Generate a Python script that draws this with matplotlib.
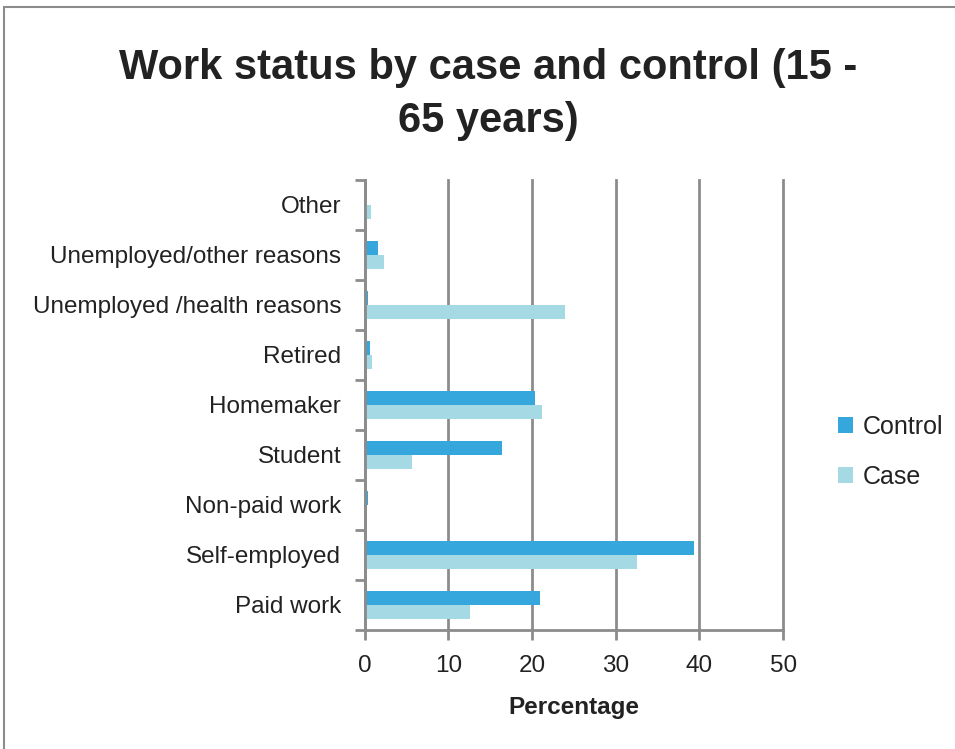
import matplotlib.pyplot as plt
import numpy as np
from matplotlib.patches import Rectangle

# Work status categories, bottom to top
categories = ['Paid work', 'Self-employed', 'Non-paid work', 'Student', 'Homemaker',
              'Retired', 'Unemployed /health reasons', 'Unemployed/other reasons', 'Other']
control = [20.9, 39.4, 0.35, 16.4, 20.4, 0.6, 0.35, 1.6, 0.0]
case = [12.6, 32.5, 0.2, 5.6, 21.2, 0.8, 23.9, 2.3, 0.7]

c_control = '#35a7dd'
c_case = '#a5d9e3'
grid_c = '#8c8c8c'
txt_c = '#222222'

plt.rcParams['font.family'] = ['Liberation Sans', 'DejaVu Sans']

fig = plt.figure(figsize=(9.55, 7.49), dpi=100)
ax = fig.add_axes([0.382, 0.159, 0.438, 0.601])

y = np.arange(len(categories))
h = 0.28
ax.barh(y + h / 2, control, height=h, color=c_control, label='Control', zorder=3)
ax.barh(y - h / 2, case, height=h, color=c_case, label='Case', zorder=3)

ax.set_xlim(0, 50)
ax.set_ylim(-0.5, len(categories) - 0.5)
ax.set_xticks(range(0, 51, 10))
ax.set_yticks(np.arange(-0.5, len(categories), 1))
ax.set_yticklabels([])
ax.set_yticks(y, minor=True)
ax.set_yticklabels(categories, minor=True, fontsize=17.5, color=txt_c)
ax.tick_params(axis='y', which='minor', length=0, pad=17)
ax.tick_params(axis='y', which='major', length=7, width=2, color=grid_c)
ax.tick_params(axis='x', length=7, width=2, color=grid_c, labelsize=17.5,
               labelcolor=txt_c, pad=11)

ax.grid(axis='x', color=grid_c, linewidth=2)
for gl in ax.get_xgridlines():
    gl.set_clip_on(False)
ax.set_axisbelow(True)
for s in ['top', 'right']:
    ax.spines[s].set_visible(False)
for s in ['left', 'bottom']:
    ax.spines[s].set_color(grid_c)
    ax.spines[s].set_linewidth(2)
    ax.spines[s].set_zorder(4)

ax.set_xlabel('Percentage', fontsize=17.5, fontweight='bold', color=txt_c, labelpad=14)

handles, labels = ax.get_legend_handles_labels()
fig.legend(handles, labels, loc='center left', bbox_to_anchor=(0.877, 0.397),
           frameon=False, fontsize=18, handlelength=0.6, handleheight=0.6,
           handletextpad=0.4, labelspacing=1.05, labelcolor=txt_c,
           borderpad=0, borderaxespad=0)

fig.text(0.511, 0.874, 'Work status by case and control (15 -\n65 years)',
         ha='center', va='center', fontsize=30, fontweight='bold',
         color=txt_c, linespacing=1.4)

# outer chart frame
fig.patches.append(Rectangle((4 / 955, -0.1), 1.2, 1 - 7 / 749 + 0.1,
                             transform=fig.transFigure, fill=False,
                             edgecolor='#8c8c8c', linewidth=1.5))

fig.savefig('out.png', dpi=100, facecolor='white')
